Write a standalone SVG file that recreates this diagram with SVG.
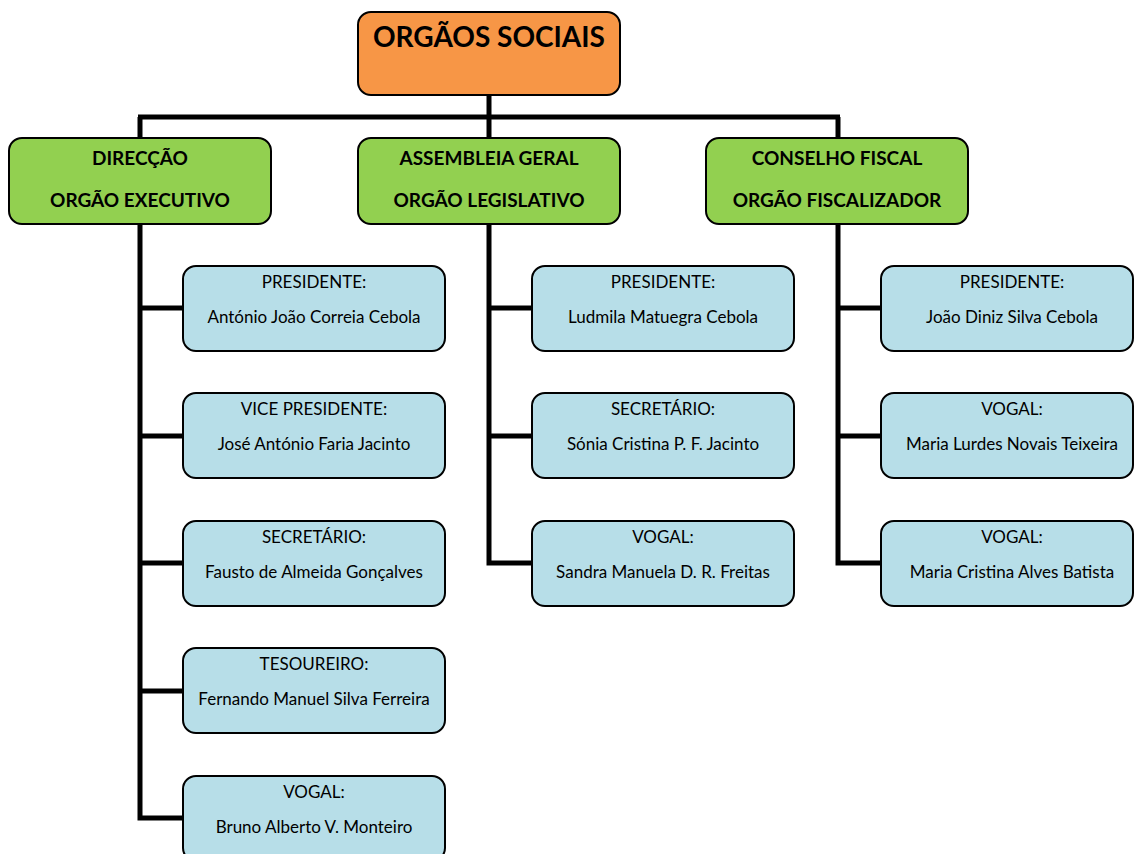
<svg xmlns="http://www.w3.org/2000/svg" width="1135" height="854" viewBox="0 0 1135 854">
<style>
.box{stroke:#000;stroke-width:2}
.top{fill:#F79646}
.grn{fill:#92D050}
.blu{fill:#B7DEE8}
.conn{fill:none;stroke:#000;stroke-width:5;stroke-linejoin:miter}
text{font-family:Lato,"Open Sans","Liberation Sans",sans-serif;text-anchor:middle;fill:#000}
.t0{font-size:28px;font-weight:bold}
.t1{font-size:19px;font-weight:bold}
.t2{font-size:17px}
</style>
<rect width="1135" height="854" fill="#fff"/>
<g id="connectors" class="conn">
<path d="M489,95 V138"/>
<path d="M138,117 H840"/>
<path d="M140,117 V138"/>
<path d="M838,117 V138"/>
<path d="M140,224 V818 H183"/>
<path d="M140,308 H183 M140,436 H183 M140,563 H183 M140,691 H183"/>
<path d="M489,224 V563 H532"/>
<path d="M489,308 H532 M489,436 H532"/>
<path d="M838,224 V563 H881"/>
<path d="M838,308 H881 M838,436 H881"/>
</g>
<g id="orgaos-sociais"><rect class="box top" x="358" y="12" width="262" height="83" rx="13"/><text class="t0" x="489" y="47">ORGÃOS SOCIAIS</text></g>
<g id="direccao"><rect class="box grn" x="9" y="138" width="262" height="86" rx="13"/><text class="t1" x="140" y="165">DIRECÇÃO</text><text class="t1" x="140" y="207">ORGÃO EXECUTIVO</text></g>
<g id="assembleia"><rect class="box grn" x="358" y="138" width="262" height="86" rx="13"/><text class="t1" x="489" y="165">ASSEMBLEIA GERAL</text><text class="t1" x="489" y="207">ORGÃO LEGISLATIVO</text></g>
<g id="conselho"><rect class="box grn" x="706" y="138" width="262" height="86" rx="13"/><text class="t1" x="837" y="165">CONSELHO FISCAL</text><text class="t1" x="837" y="207">ORGÃO FISCALIZADOR</text></g>

<g id="d-presidente"><rect class="box blu" x="183" y="266" width="262" height="85" rx="13"/><text class="t2" x="314" y="288">PRESIDENTE:</text><text class="t2" x="314" y="323">António João Correia Cebola</text></g>
<g id="d-vice"><rect class="box blu" x="183" y="393" width="262" height="85" rx="13"/><text class="t2" x="314" y="415">VICE PRESIDENTE:</text><text class="t2" x="314" y="450">José António Faria Jacinto</text></g>
<g id="d-secretario"><rect class="box blu" x="183" y="521" width="262" height="85" rx="13"/><text class="t2" x="314" y="543">SECRETÁRIO:</text><text class="t2" x="314" y="578">Fausto de Almeida Gonçalves</text></g>
<g id="d-tesoureiro"><rect class="box blu" x="183" y="648" width="262" height="85" rx="13"/><text class="t2" x="314" y="670">TESOUREIRO:</text><text class="t2" x="314" y="705">Fernando Manuel Silva Ferreira</text></g>
<g id="d-vogal"><rect class="box blu" x="183" y="776" width="262" height="85" rx="13"/><text class="t2" x="314" y="798">VOGAL:</text><text class="t2" x="314" y="833">Bruno Alberto V. Monteiro</text></g>

<g id="a-presidente"><rect class="box blu" x="532" y="266" width="262" height="85" rx="13"/><text class="t2" x="663" y="288">PRESIDENTE:</text><text class="t2" x="663" y="323">Ludmila Matuegra  Cebola</text></g>
<g id="a-secretario"><rect class="box blu" x="532" y="393" width="262" height="85" rx="13"/><text class="t2" x="663" y="415">SECRETÁRIO:</text><text class="t2" x="663" y="450">Sónia Cristina P. F.  Jacinto</text></g>
<g id="a-vogal"><rect class="box blu" x="532" y="521" width="262" height="85" rx="13"/><text class="t2" x="663" y="543">VOGAL:</text><text class="t2" x="663" y="578">Sandra Manuela D. R. Freitas</text></g>

<g id="c-presidente"><rect class="box blu" x="881" y="266" width="252" height="85" rx="13"/><text class="t2" x="1012" y="288">PRESIDENTE:</text><text class="t2" x="1012" y="323">João Diniz Silva Cebola</text></g>
<g id="c-vogal1"><rect class="box blu" x="881" y="393" width="252" height="85" rx="13"/><text class="t2" x="1012" y="415">VOGAL:</text><text class="t2" x="1012" y="450">Maria Lurdes Novais  Teixeira</text></g>
<g id="c-vogal2"><rect class="box blu" x="881" y="521" width="252" height="85" rx="13"/><text class="t2" x="1012" y="543">VOGAL:</text><text class="t2" x="1012" y="578">Maria Cristina Alves Batista</text></g>
</svg>
